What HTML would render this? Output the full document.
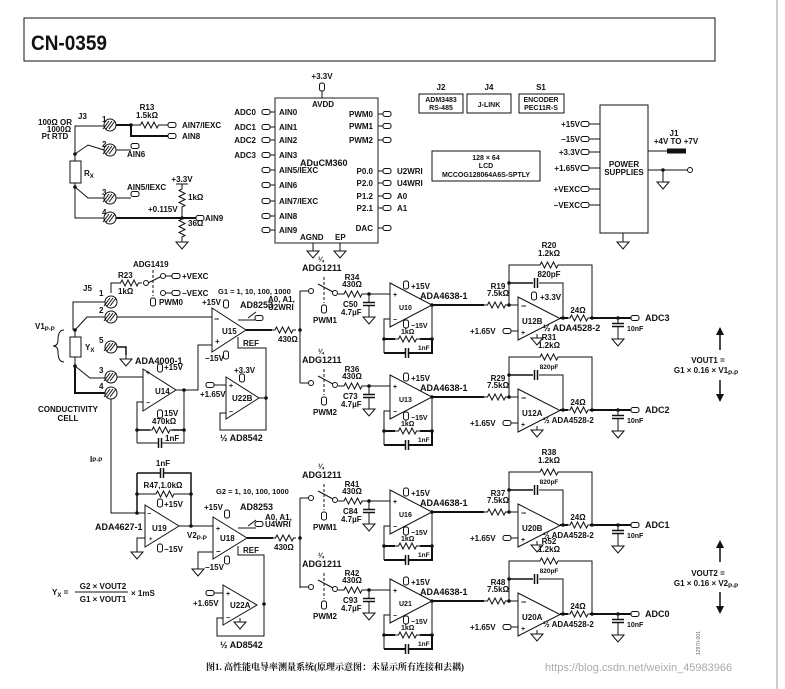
<!DOCTYPE html>
<html><head><meta charset="utf-8"><style>
html,body{margin:0;padding:0;background:#fff;width:785px;height:689px;overflow:hidden}
svg{display:block}
text{font-family:"Liberation Sans","Noto Sans CJK SC",sans-serif;font-weight:bold;font-size:8px;fill:#111}
</style></head><body>
<svg id="s" width="785" height="689" viewBox="0 0 785 689" xmlns="http://www.w3.org/2000/svg"></svg>
<script>
var o=[];
function L(p,w){o.push('<polyline points="'+p+'" fill="none" stroke="#111" stroke-width="'+(w||1)+'"/>');}
function T(x,y,s,a,sz){o.push('<text x="'+x+'" y="'+y+'"'+(a?' text-anchor="'+a+'"':'')+(sz?' style="font-size:'+sz+'px"':'')+'>'+s+'</text>');}
function D(x,y){o.push('<circle cx="'+x+'" cy="'+y+'" r="1.8" fill="#111"/>');}
function R(x1,x2,y){var m=(x1+x2)/2,a=m-9,p=x1+','+y+' '+a+','+y;for(var i=0;i<6;i++){p+=' '+(a+1.5+i*3)+','+(y+(i%2?3:-3));}p+=' '+(a+18)+','+y+' '+x2+','+y;L(p);}
function RV(x,y1,y2){var m=(y1+y2)/2,a=m-9,p=x+','+y1+' '+x+','+a;for(var i=0;i<6;i++){p+=' '+(x+(i%2?3:-3))+','+(a+1.5+i*3);}p+=' '+x+','+(a+18)+' '+x+','+y2;L(p);}
function C(x,y){o.push('<line x1="'+(x-1.5)+'" y1="'+(y-5)+'" x2="'+(x-1.5)+'" y2="'+(y+5)+'" stroke="#111" stroke-width="1.5"/><line x1="'+(x+1.5)+'" y1="'+(y-5)+'" x2="'+(x+1.5)+'" y2="'+(y+5)+'" stroke="#111" stroke-width="1.5"/>');}
function CV(x,y){o.push('<line x1="'+(x-6)+'" y1="'+(y-1.5)+'" x2="'+(x+6)+'" y2="'+(y-1.5)+'" stroke="#111" stroke-width="1.5"/><line x1="'+(x-6)+'" y1="'+(y+1.5)+'" x2="'+(x+6)+'" y2="'+(y+1.5)+'" stroke="#111" stroke-width="1.5"/>');}
function G(x,y){L(x+','+y+' '+x+','+(y+4));o.push('<polygon points="'+(x-6)+','+(y+4)+' '+(x+6)+','+(y+4)+' '+x+','+(y+11)+'" fill="#fff" stroke="#111"/>');}
function K(x,y){o.push('<rect x="'+(x-4)+'" y="'+(y-2.5)+'" width="8" height="5" rx="2" fill="#fff" stroke="#111"/>');}
function KV(x,y){o.push('<rect x="'+(x-2.5)+'" y="'+(y-4)+'" width="5" height="8" rx="2" fill="#fff" stroke="#111"/>');}
function TM(x,y){o.push('<circle cx="'+x+'" cy="'+y+'" r="6" fill="#fff" stroke="#111"/>');for(var i=-1;i<=1;i++)o.push('<line x1="'+(x-4+i*3)+'" y1="'+(y+4)+'" x2="'+(x+2+i*3)+'" y2="'+(y-4)+'" stroke="#111"/>');}
function OA(xl,yt,yb,xt){var ym=(yt+yb)/2;o.push('<polygon points="'+xl+','+yt+' '+xl+','+yb+' '+xt+','+ym+'" fill="#fff" stroke="#111"/>');}
function CI(x,y){o.push('<circle cx="'+x+'" cy="'+y+'" r="2.5" fill="#fff" stroke="#111"/>');}

/* frame */
o.push('<rect x="24" y="18" width="691" height="43" fill="none" stroke="#111"/>');
o.push('<line x1="777" y1="0" x2="777" y2="689" stroke="#999"/>');
o.push('<text x="31" y="50" textLength="76" lengthAdjust="spacingAndGlyphs" style="font-size:21px">CN-0359</text>');

/* RTD section */
T(78,119,'J3');T(55,125,'100Ω OR','middle');T(59,132,'1000Ω','middle');T(55,139,'Pt RTD','middle');
L('104,126 75,126 75,154');L('104,150 88,145 75,154');
o.push('<rect x="70" y="161" width="11" height="22" fill="#fff" stroke="#111"/>');L('75,154 75,161');L('75,183 75,218 104,218');
D(75,154);D(75,187);T(84,176,'R<tspan dy="2" style="font-size:6px">X</tspan>');
L('75,187 88,198 104,198');
TM(110,125);TM(110,150);TM(110,198);TM(110,218);
T(102,122,'1');T(102,147,'2');T(102,195,'3');T(102,215,'4');
L('116,125 131,125',2);R(131,168,125);L('131,125 131,136 168,136',2);D(131,125);K(172,125);K(172,136);
T(147,110,'R13','middle');T(147,118,'1.5kΩ','middle');T(182,128,'AIN7/IEXC');T(182,139,'AIN8');
L('116,150 131,150');K(135,146);T(127,157,'AIN6');
L('116,198 131,198');K(135,194);T(127,190,'AIN5/IEXC');
L('116,218 196,218',2);K(200,218);T(205,221,'AIN9');D(182,218);
L('176,184 188,184');T(182,182,'+3.3V','middle');RV(182,184,212);L('182,212 182,218');T(188,200,'1kΩ');T(148,212,'+0.115V');
RV(182,218,238);T(188,226,'36Ω');G(182,238);

/* ADuCM360 */
o.push('<rect x="275" y="98" width="103" height="145" fill="none" stroke="#444" stroke-width="1.2"/>');
T(322,79,'+3.3V','middle');KV(322,87);L('322,91 322,98');T(323,107,'AVDD','middle');
var lp=[['AIN0',112,'ADC0'],['AIN1',127,'ADC1'],['AIN2',140,'ADC2'],['AIN3',155,'ADC3'],['AIN5/IEXC',170],['AIN6',185],['AIN7/IEXC',201],['AIN8',216],['AIN9',230]];
lp.forEach(function(p){K(266,p[1]);L('270,'+p[1]+' 275,'+p[1]);T(279,p[1]+3,p[0]);if(p[2])T(256,p[1]+3,p[2],'end');});
var rp=[['PWM0',114],['PWM1',126],['PWM2',140],['P0.0',171,'U2WRI'],['P2.0',183,'U4WRI'],['P1.2',196,'A0'],['P2.1',208,'A1'],['DAC',228]];
rp.forEach(function(p){L('378,'+p[1]+' 383,'+p[1]);K(387,p[1]);T(373,p[1]+3,p[0],'end');if(p[2])T(397,p[1]+3,p[2]);});
T(300,166,'ADuCM360',null,9);T(300,240,'AGND');T(335,240,'EP');L('313,243 313,247');G(313,247);L('340,243 340,247');G(340,247);

/* small boxes */
T(441,90,'J2','middle');T(489,90,'J4','middle');T(541,90,'S1','middle');
o.push('<rect x="419" y="94" width="44" height="19" fill="none" stroke="#111"/><rect x="467" y="94" width="44" height="19" fill="none" stroke="#111"/><rect x="519" y="94" width="45" height="19" fill="none" stroke="#111"/>');
T(441,102,'ADM3483','middle',7);T(441,110,'RS-485','middle',7);T(489,107,'J-LINK','middle',7);T(541,102,'ENCODER','middle',7);T(541,110,'PEC11R-S','middle',7);
o.push('<rect x="432" y="151" width="108" height="30" fill="none" stroke="#111"/>');
T(486,160,'128 × 64','middle',7);T(486,168,'LCD','middle',7);T(486,177,'MCCOG128064A6S-SPTLY','middle',7);
/* power */
o.push('<rect x="600" y="105" width="48" height="128" fill="none" stroke="#111"/>');
T(624,167,'POWER','middle');T(624,175,'SUPPLIES','middle');
[['+15V',124],['−15V',139],['+3.3V',152],['+1.65V',168],['+VEXC',189],['−VEXC',205]].forEach(function(p){K(585,p[1]);L('589,'+p[1]+' 600,'+p[1]);T(580,p[1]+3,p[0],'end');});
T(674,136,'J1','middle');T(676,144,'+4V TO +7V','middle');L('648,151 686,151');o.push('<rect x="667" y="148.5" width="19" height="5" fill="#111"/>');
L('648,170 688,170');CI(690,170);D(663,170);L('663,170 663,178');G(663,178);L('623,233 623,238');G(623,238);

/* input section top */
T(133,267,'ADG1419');T(118,278,'R23');T(118,294,'1kΩ');T(83,291,'J5');
L('111,293 111,283 117,283');R(117,142,283);CI(146,283);L('148,283 162,276');
o.push('<line x1="153" y1="270" x2="153" y2="296" stroke="#111" stroke-dasharray="3,2"/>');KV(153,302);T(159,305,'PWM0');
CI(163,276);CI(163,293);L('165,276 172,276');L('165,293 172,293');K(176,276);K(176,293);T(182,279,'+VEXC');T(182,296,'−VEXC');
T(35,329,'V1<tspan dy="2" style="font-size:6px">P-P</tspan>');
o.push('<path d="M64,330 Q58,330 58,340 Q58,346 53,346 Q58,346 58,352 Q58,362 64,362" fill="none" stroke="#111"/>');
L('105,302 73,302 73,330');L('75,330 87,317 105,317');D(75,330);
o.push('<rect x="70" y="337" width="11" height="20" fill="#fff" stroke="#111"/>');L('75,330 75,337');L('75,357 75,366');D(75,366);
T(85,350,'Y<tspan dy="2" style="font-size:6px">X</tspan>');
L('75,366 90,378 105,378');L('75,366 75,393 105,393',2);
TM(111,302);TM(111,317);TM(111,347);TM(111,377);TM(111,393);
T(99,296,'1');T(99,313,'2');T(99,343,'5');T(99,373,'3');T(99,389,'4');
L('117,347 126,347 126,355',1.5);G(126,355);T(135,364,'ADA4000-1',null,9);
T(68,412,'CONDUCTIVITY','middle');T(68,421,'CELL','middle');
L('117,317 212,317');L('117,377 143,377');
OA(143,369,411,176);T(155,394,'U14');KV(160,368);T(164,370,'+15V');KV(160,414);T(164,416,'15V');T(146,375,'+',null,7);T(146,405,'−',null,7);
L('176,390 198,390 198,345 212,345');D(184,390);L('184,390 184,430');L('143,402 137,402 137,443');
L('137,430 150,430',1.5);R(150,172,430);L('172,430 184,430',1.5);D(137,430);D(184,430);T(152,424,'470kΩ');
L('137,443 158,443');C(160,443);L('162,443 184,443 184,430');T(165,441,'1nF');
OA(212,308,352,246);T(222,334,'U15');T(214,322,'−',null,9);T(215,344,'+',null,8);
T(202,305,'+15V');KV(226,304);T(240,308,'AD8253',null,9);T(205,361,'−15V');KV(226,355);
T(218,294,'G1 = 1, 10, 100, 1000',null,7.5);
L('238,320 256,320');L('248,318 256,312');K(259,318);T(268,302,'A0, A1,');T(268,310,'U2WRI');
L('246,330 272,330',2);R(272,296,330);T(278,342,'430Ω');D(300,330);T(243,346,'REF');
L('238,337 238,348 266,348 266,398');D(266,398);
OA(226,377,419,259);T(232,401,'U22B');T(229,388,'+',null,7);T(229,414,'−',null,7);
T(234,373,'+3.3V');KV(242,378);L('259,398 266,398');L('226,413 220,413 220,430 266,430 266,398');
K(210,385);L('214,385 226,385');T(200,397,'+1.65V');T(220,441,'½ AD8542',null,9);
L('300,291 300,383');

/* Input section bottom */
L('111,399 111,513 145,513');T(90,462,'I<tspan style="font-size:6px">P-P</tspan>');
L('137,473 160,473',1.5);C(162,473);L('164,473 191,473 191,526',1.5);L('137,473 137,513',1.5);
L('137,494 155,494');R(155,175,494);L('175,494 191,494');D(137,494);D(191,494);D(137,513);
T(163,466,'1nF','middle');T(163,488,'R47,1.0kΩ','middle');
OA(145,505,547,179);T(152,531,'U19');T(147,516,'−',null,7);T(149,541,'+',null,6);
KV(160,503);T(164,507,'+15V');KV(160,548);T(164,552,'−15V');
L('145,538 137,538 137,548');G(137,548);T(95,530,'ADA4627-1',null,9);
L('179,526 213,526');D(191,526);T(187,538,'V2<tspan dy="2" style="font-size:6px">P-P</tspan>');
OA(213,517,559,247);T(220,541,'U18');T(216,531,'+',null,7);T(216,554,'−',null,8);
T(216,494,'G2 = 1, 10, 100, 1000',null,7.5);T(204,510,'+15V');KV(227,514);T(240,510,'AD8253',null,9);
T(205,570,'−15V');KV(227,560);L('213,552 198,552 198,565');G(198,565);
L('238,528 256,528');L('248,526 256,520');K(259,524);T(265,520,'A0, A1,');T(265,527,'U4WRI');
L('247,538 273,538',2);R(273,296,538);T(274,550,'430Ω');D(300,538);T(243,553,'REF');
L('238,546 238,555 264,555 264,604');D(264,604);
OA(223,585,625,257);T(230,608,'U22A');T(226,596,'+',null,7);T(226,620,'−',null,7);G(240,618);
K(210,593);L('214,593 223,593');T(193,606,'+1.65V');L('223,618 217,618 217,636 264,636 264,604');
T(220,648,'½ AD8542',null,9);L('300,498 300,588');
/* formula */
T(52,595,'Y<tspan dy="2" style="font-size:6px">X</tspan><tspan dy="-2"> =</tspan>');T(103,589,'G2 × VOUT2','middle');L('75,592 128,592');T(103,602,'G1 × VOUT1','middle');T(131,596,'× 1mS');

/* channels */
function CH(b,un,ua,rs,cs,rf,r2,r3,pw,adc,ux,top){
 T(318,b-29,'¼',null,7);T(302,b-20,'ADG1211',null,9);
 L('300,'+b+' 308,'+b);CI(311,b);L('318,'+(b-7)+' 333,'+(b+1));CI(335,b+2);
 o.push('<line x1="324" y1="'+(b-14)+'" x2="324" y2="'+(b+12)+'" stroke="#111" stroke-dasharray="3,2"/>');KV(324,b+18);T(313,b+32,pw);
 T(352,b-11,rs[0],'middle');T(352,b-4,'430Ω','middle');R(338,368,b+3);D(369,b+3);L('369,'+(b+3)+' 369,'+(b+11));CV(369,b+13);L('369,'+(b+15)+' 369,'+(b+22));G(369,b+22);
 T(343,b+16,cs);T(341,b+24,'4.7µF');
 L('369,'+(b+3)+' 390,'+(b+3));OA(390,b-8,b+36,432);T(399,b+19,un,null,7);T(393,b+6,'+',null,7);T(393,b+31,'−',null,7);
 KV(406,b-6);T(411,b-2,'+15V');KV(406,b+33);T(411,b+37,'−15V',null,7);T(420,b+8,'ADA4638-1',null,9);
 L('432,'+(b+14)+' 484,'+(b+14),2);R(484,509,b+14);D(432,b+14);D(509,b+14);T(498,b-2,rf[0],'middle');T(498,b+5,'7.5kΩ','middle');
 L('390,'+(b+28)+' 384,'+(b+28)+' 384,'+(b+62));L('384,'+(b+48)+' 395,'+(b+48),2);R(395,420,b+48);L('420,'+(b+48)+' 432,'+(b+48),2);L('432,'+(b+14)+' 432,'+(b+48));D(384,b+48);D(432,b+48);
 L('384,'+(b+62)+' 405,'+(b+62),2);C(407,b+62);L('409,'+(b+62)+' 432,'+(b+62)+' 432,'+(b+48),2);T(401,b+43,'1kΩ',null,7);T(418,b+59,'1nF',null,6.5);
 L('509,'+(b+14)+' 518,'+(b+14));L('509,'+(b+14)+' 509,'+(b-26)+' 538,'+(b-26));R(538,560,b-26);L('560,'+(b-26)+' 592,'+(b-26)+' 592,'+(b+27));
 L('509,'+(b-8)+' 533,'+(b-8),1.5);C(536,b-8);L('539,'+(b-8)+' 563,'+(b-8)+' 563,'+(b+27));D(509,b-8);
 T(549,b-43,r2,'middle');T(549,b-35,'1.2kΩ','middle');T(549,b-14,'820pF','middle',top?8:6.5);
 OA(518,b+6,b+49,560);T(522,b+33,ux);T(521,b+18,'−',null,9);T(521,b+44,'+',null,7);
 if(top){KV(534,b+5);T(540,b+9,'+3.3V');}
 G(537,b+43);K(507,b+40);L('511,'+(b+40)+' 518,'+(b+40));T(470,b+43,'+1.65V');
 L('560,'+(b+27)+' 568,'+(b+27),2);R(568,590,b+27);L('590,'+(b+27)+' 631,'+(b+27),2);D(563,b+27);D(592,b+27);D(618,b+27);
 T(578,b+22,'24Ω','middle');L('618,'+(b+27)+' 618,'+(b+32));CV(618,b+34);L('618,'+(b+36)+' 618,'+(b+44));G(618,b+44);T(627,b+40,'10nF',null,7);
 K(635,b+27);T(645,b+30,adc,null,9);T(543,b+40,'½ ADA4528-2',null,top?9:8);
}
CH(291,'U10','',['R34'],'C50',['R19'],'R20','','PWM1','ADC3','U12B',1);
CH(383,'U13','',['R36'],'C73',['R29'],'R31','','PWM2','ADC2','U12A',0);
CH(498,'U16','',['R41'],'C84',['R37'],'R38','','PWM1','ADC1','U20B',0);
CH(587,'U21','',['R42'],'C93',['R48'],'R52','','PWM2','ADC0','U20A',0);

/* VOUT labels */
o.push('<line x1="720" y1="333" x2="720" y2="350" stroke="#111" stroke-width="1.5"/><polygon points="716,335 724,335 720,327" fill="#111"/>');
o.push('<line x1="720" y1="380" x2="720" y2="396" stroke="#111" stroke-width="1.5"/><polygon points="716,394 724,394 720,402" fill="#111"/>');
T(708,363,'VOUT1 =','middle');T(706,373,'G1 × 0.16 × V1<tspan dy="2" style="font-size:6px">P-P</tspan>','middle');
o.push('<line x1="720" y1="546" x2="720" y2="562" stroke="#111" stroke-width="1.5"/><polygon points="716,548 724,548 720,540" fill="#111"/>');
o.push('<line x1="720" y1="592" x2="720" y2="608" stroke="#111" stroke-width="1.5"/><polygon points="716,606 724,606 720,614" fill="#111"/>');
T(708,576,'VOUT2 =','middle');T(706,586,'G1 × 0.16 × V2<tspan dy="2" style="font-size:6px">P-P</tspan>','middle');
o.push('<text x="700" y="655" transform="rotate(-90 700 655)" style="font-size:5px;font-weight:normal;fill:#666">12970-001</text>');

/* caption */
o.push('<text x="206" y="670" style="font-family:\'Liberation Serif\',\'Noto Serif CJK SC\',serif;font-size:9px;font-weight:bold">图1. 高性能电导率测量系统(原理示意图：未显示所有连接和去耦)</text>');
o.push('<text x="545" y="671" style="font-size:11px;font-weight:normal;fill:#aaa">https://blog.csdn.net/weixin_45983966</text>');
document.getElementById('s').innerHTML=o.join('');
</script>
</body></html>
